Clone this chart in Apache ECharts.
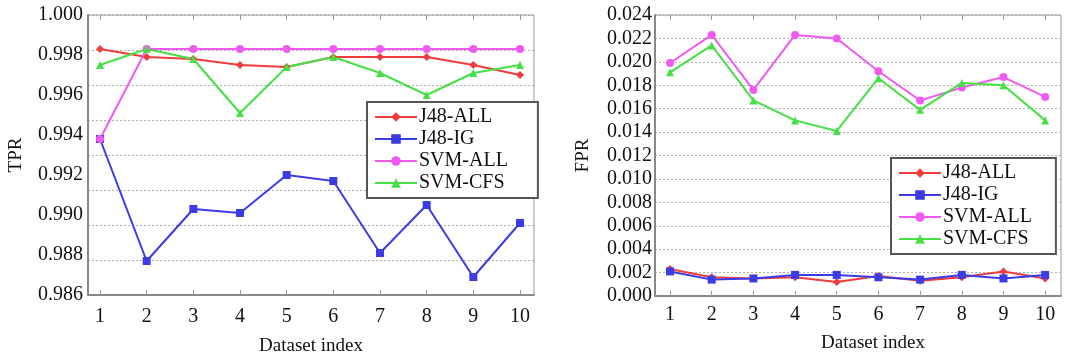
<!DOCTYPE html>
<html>
<head>
<meta charset="utf-8">
<script src="https://cdn.jsdelivr.net/npm/echarts@6/dist/echarts.min.js"></script>
<style>
  html, body { margin: 0; padding: 0; background: #fff; }
  #main { width: 1066px; height: 356px; }
</style>
</head>
<body>
<div id="main"></div>
<script>
// dataset index on x
const datasetIndex = [1, 2, 3, 4, 5, 6, 7, 8, 9, 10];
const seriesNames = ['J48-ALL', 'J48-IG', 'SVM-ALL', 'SVM-CFS'];

// TPR (left chart)
const tprJ48All = [0.9983, 0.9979, 0.9978, 0.9975, 0.9974, 0.9979, 0.9979, 0.9979, 0.9975, 0.9970];
const tprJ48IG = [0.9938, 0.9877, 0.9903, 0.9901, 0.9920, 0.9917, 0.9881, 0.9905, 0.9869, 0.9896];
const tprSvmAll = [0.9938, 0.9983, 0.9983, 0.9983, 0.9983, 0.9983, 0.9983, 0.9983, 0.9983, 0.9983];
const tprSvmCfs = [0.9975, 0.9983, 0.9978, 0.9951, 0.9974, 0.9979, 0.9971, 0.9960, 0.9971, 0.9975];
const tprTicks = [0.986, 0.988, 0.990, 0.992, 0.994, 0.996, 0.998, 1.000];

// FPR (right chart)
const fprJ48All = [0.0023, 0.0016, 0.0015, 0.0016, 0.0012, 0.0017, 0.0013, 0.0016, 0.0021, 0.0015];
const fprJ48IG = [0.0021, 0.0014, 0.0015, 0.0018, 0.0018, 0.0016, 0.0014, 0.0018, 0.0015, 0.0018];
const fprSvmAll = [0.0199, 0.0223, 0.0176, 0.0223, 0.0220, 0.0192, 0.0167, 0.0178, 0.0187, 0.0170];
const fprSvmCfs = [0.0191, 0.0214, 0.0167, 0.0150, 0.0141, 0.0186, 0.0159, 0.0182, 0.0180, 0.0150];

const colors = ['#f03c3c', '#3c3ce6', '#f05af0', '#46e046'];
const symbols = ['diamond', 'rect', 'circle', 'triangle'];
const font = 'Liberation Serif';

const chart = echarts.init(document.getElementById('main'));

function pairs(values) {
  return datasetIndex.map((x, i) => [x, values[i]]);
}

function xAxisFor(gridIndex, min, max, nameGap, namePad, labelMargin) {
  return [{
    gridIndex: gridIndex,
    type: 'value',
    min: min,
    max: max,
    name: 'Dataset index',
    nameLocation: 'middle',
    nameGap: nameGap,
    nameTextStyle: {fontFamily: font, fontSize: 19, color: '#111', padding: namePad},
    axisLine: {lineStyle: {color: '#888', width: 2}},
    axisTick: {show: true, inside: true, length: 5, lineStyle: {color: '#999'}, customValues: datasetIndex},
    axisLabel: {fontFamily: font, fontSize: 20, color: '#111', margin: labelMargin, customValues: datasetIndex},
    splitLine: {show: false}
  }, {
    gridIndex: gridIndex,
    type: 'value',
    position: 'top',
    min: min,
    max: max,
    axisLine: {show: false},
    axisTick: {show: true, inside: true, length: 5, lineStyle: {color: '#999'}, customValues: datasetIndex},
    axisLabel: {show: false},
    splitLine: {show: false}
  }];
}

const gridLine = {show: true, lineStyle: {color: '#b0b0b0', type: [2, 2], width: 1}};

function lineSeries(name, idx, values, axisIdx) {
  return {
    name: name,
    type: 'line',
    xAxisIndex: axisIdx,
    yAxisIndex: axisIdx,
    data: pairs(values),
    symbol: symbols[idx],
    symbolSize: 8,
    lineStyle: {color: colors[idx], width: 2},
    itemStyle: {color: colors[idx]},
    z: 3
  };
}

function legendAt(left, top, padRight) {
  return {
    left: left,
    top: top,
    orient: 'vertical',
    data: seriesNames,
    backgroundColor: '#fff',
    borderColor: '#555',
    borderWidth: 2,
    padding: [5, padRight, 5, 7],
    itemGap: 2,
    itemWidth: 42,
    itemHeight: 12,
    selectedMode: false,
    textStyle: {fontFamily: font, fontSize: 20, color: '#111', padding: [0, 0, 0, -3]}
  };
}

const option = {
  backgroundColor: '#fff',
  animation: false,
  legend: [legendAt(367, 102, 30), legendAt(891, 158, 24)],
  grid: [
    {left: 88, top: 15, width: 446, height: 280, outerBoundsMode: 'none', show: true, borderColor: '#999', borderWidth: 1},
    {left: 655, top: 15, width: 406, height: 281, outerBoundsMode: 'none', show: true, borderColor: '#999', borderWidth: 1}
  ],
  xAxis: [
    ...xAxisFor(0, 0.743, 10.3, 42, [0, 0, 0, 0], 12),
    ...xAxisFor(1, 0.64, 10.38, 38, [0, 0, 0, 30], 9)
  ],
  yAxis: [{
    gridIndex: 0,
    type: 'value',
    min: tprTicks[0],
    max: tprTicks[tprTicks.length - 1],
    interval: 0.002,
    name: 'TPR',
    nameLocation: 'middle',
    nameGap: 62,
    nameTextStyle: {fontFamily: font, fontSize: 19, color: '#111'},
    axisLine: {show: true, lineStyle: {color: '#888', width: 2}},
    axisTick: {show: false},
    axisLabel: {fontFamily: font, fontSize: 20, color: '#111', margin: 5, formatter: v => v.toFixed(3)},
    splitLine: {show: false}
  }, {
    // the printed figure has its grid lines on a finer spacing than its labels
    gridIndex: 0,
    type: 'value',
    position: 'right',
    min: 0,
    max: 8,
    interval: 1,
    axisLine: {show: false},
    axisTick: {show: false},
    axisLabel: {show: false},
    splitLine: gridLine
  }, {
    gridIndex: 1,
    type: 'value',
    min: 0,
    max: 0.024,
    interval: 0.002,
    name: 'FPR',
    nameLocation: 'middle',
    nameGap: 62,
    nameTextStyle: {fontFamily: font, fontSize: 19, color: '#111'},
    axisLine: {show: true, lineStyle: {color: '#888', width: 2}},
    axisTick: {show: false},
    axisLabel: {fontFamily: font, fontSize: 20, color: '#111', margin: 3, formatter: v => v.toFixed(3)},
    splitLine: gridLine
  }],
  series: [
    lineSeries('J48-ALL', 0, tprJ48All, 0),
    lineSeries('J48-IG', 1, tprJ48IG, 0),
    lineSeries('SVM-ALL', 2, tprSvmAll, 0),
    lineSeries('SVM-CFS', 3, tprSvmCfs, 0),
    Object.assign(lineSeries('J48-ALL', 0, fprJ48All, 0), {xAxisIndex: 2, yAxisIndex: 2}),
    Object.assign(lineSeries('J48-IG', 1, fprJ48IG, 0), {xAxisIndex: 2, yAxisIndex: 2}),
    Object.assign(lineSeries('SVM-ALL', 2, fprSvmAll, 0), {xAxisIndex: 2, yAxisIndex: 2}),
    Object.assign(lineSeries('SVM-CFS', 3, fprSvmCfs, 0), {xAxisIndex: 2, yAxisIndex: 2})
  ]
};

chart.setOption(option);
</script>
</body>
</html>
